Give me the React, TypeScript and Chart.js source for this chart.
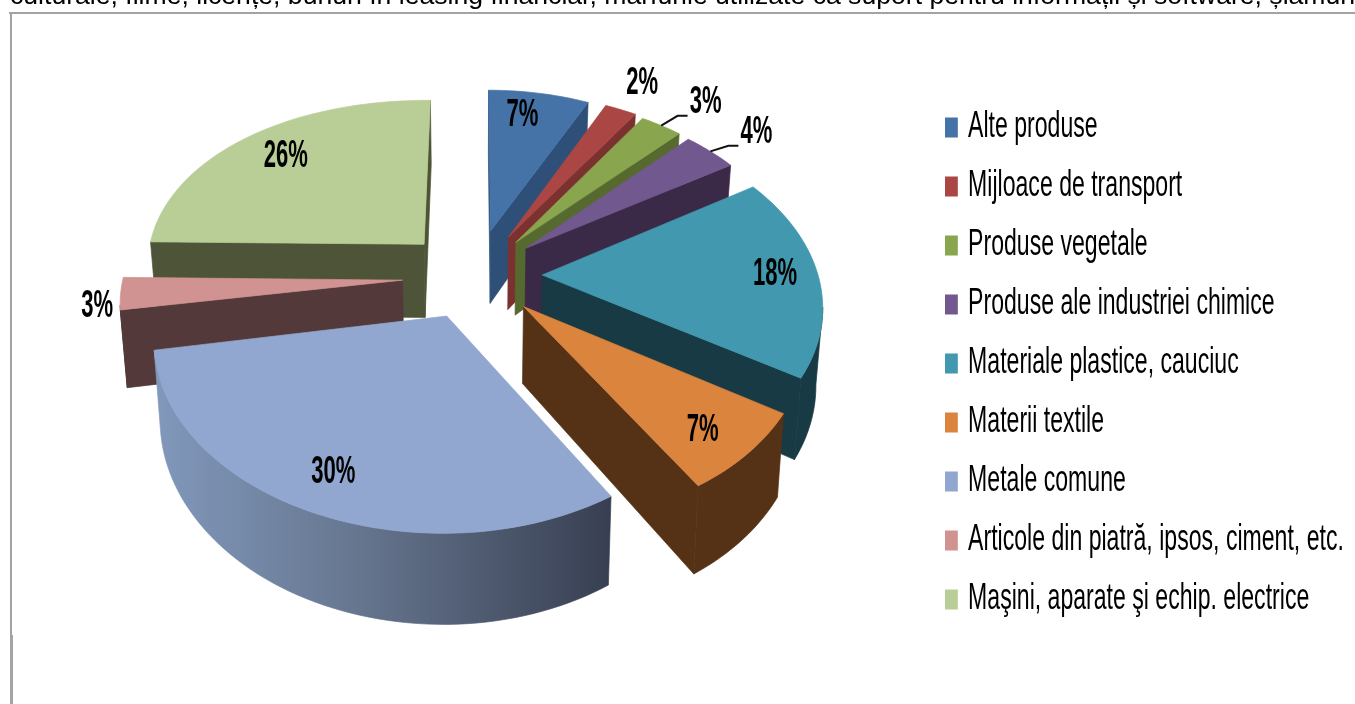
import React, { useEffect, useRef } from "react";
import { Chart, registerables } from "chart.js";
Chart.register(...registerables);

const categories = ["Alte produse","Mijloace de transport","Produse vegetale","Produse ale industriei chimice","Materiale plastice, cauciuc","Materii textile","Metale comune","Articole din piatră, ipsos, ciment, etc.","Maşini, aparate şi echip. electrice"];
const shares = [7.1,2.2,2.9,3.8,18,7.2,30.4,2.9,25.5];
const topColors = ["#4573a7","#aa4643","#89a54e","#71588f","#4198af","#db843d","#91a7cf","#d19392","#b9cd96"];
const wallColors = ["#2e5078","#7b312f","#566a30","#3b2a47","#183a45","#553216","#3b4358","#53393a","#4d5437"];
const explode = [26,25,24,24,24,24,24,25,25];
const radiusFactor = [0.96,0.975,0.975,0.97,0.985,0.97,0.96,0.95,0.96];
const labelRadius = [1.05,1.45,1.47,1.45,1.05,1.03,1.03,1.34,1.07];
const labelNudgeX = [-9,-1,11,5,6,0,-5,19,12];
const labelNudgeY = [0,-1,4,3,0,7,0,12,6];
const leaderSlices = [2,3];
const clippedLine = "culturale, filme, licențe, bunuri în leasing financiar, mărfurile utilizate ca suport pentru informații și software, șlamuri";

const CX = 475, CY = 275, RX = 280, RX_LEFT = 291, RY = 180, P = 0.15, DEPTH = 75, LEFT_LIFT = 6;
const project = (u: number, v: number, z: number) => {
  const w = 1 + P * v;
  const rx = u < 0 ? RX_LEFT : RX;
  const lift = u < 0 ? LEFT_LIFT * u * u : 0;
  return [CX + (rx * u) / (w * (1 + 0.02 * z)), CY - lift - (RY * v - DEPTH * z) / w];
};

function fillPoly(ctx: any, pts: number[][], fill: any) {
  ctx.beginPath();
  pts.forEach((p, i) => (i ? ctx.lineTo(p[0], p[1]) : ctx.moveTo(p[0], p[1])));
  ctx.closePath();
  ctx.fillStyle = fill;
  ctx.fill();
  ctx.strokeStyle = fill;
  ctx.lineWidth = 0.7;
  ctx.stroke();
}

const pie3d = {
  id: "pie3d",
  beforeDraw(chart: any) {
    const legend = chart.legend;
    if (legend && !legend.__wrapped) {
      legend.__wrapped = true;
      const orig = legend.draw.bind(legend);
      legend.draw = (...a: any[]) => {
        const sx = 0.641;
        const c = chart.ctx;
        const hit = legend.legendHitBoxes[0];
        c.save();
        c.translate(945 - sx * (hit.left - 2), 0);
        c.scale(sx, 1);
        orig(...a);
        c.restore();
      };
    }
    const ctx = chart.ctx;
    ctx.save();
    ctx.font = "26.6px 'Liberation Sans'";
    ctx.fillStyle = "#000";
    ctx.textBaseline = "alphabetic";
    ctx.fillText(clippedLine, 10, 4);
    ctx.fillStyle = "#a3a3a3";
    ctx.fillRect(9, 12, 1346, 2);
    ctx.fillRect(10, 12, 2, 623);
    ctx.fillRect(10, 635, 3, 69);
    ctx.restore();
  },
  beforeDatasetsDraw(chart: any) {
    const ctx = chart.ctx;
    const arcs = chart.getDatasetMeta(0).data;
    const info = arcs.map((a: any, i: number) => {
      const s = a.startAngle + Math.PI / 2;
      const e = a.endAngle + Math.PI / 2;
      const m = (s + e) / 2;
      const ex = a.options.offset / 100;
      return { i, s, e, m, ax: ex * Math.sin(m), ay: ex * Math.cos(m) };
    });
    const order = [...info].sort((p: any, q: any) => Math.cos(q.m) - Math.cos(p.m));
    const eyeV = -1 / P;
    const facing = (nu: number, nv: number, u: number, v: number) => nu * -u + nv * (eyeV - v) > 0;
    for (const sl of order) {
      const { i, s, e, ax, ay } = sl;
      const r = radiusFactor[i];
      const n = Math.max(4, Math.ceil((e - s) / 0.03));
      const rim: number[][] = [];
      for (let k = 0; k <= n; k++) {
        const t = s + ((e - s) * k) / n;
        rim.push([ax + r * Math.sin(t), ay + r * Math.cos(t), t]);
      }
      const first = rim[0], last = rim[n];
      const wall = wallColors[i];
      const quad = (a: number[], b: number[], f: any) =>
        fillPoly(ctx, [project(a[0], a[1], 0), project(b[0], b[1], 0), project(b[0], b[1], 1), project(a[0], a[1], 1)], f);
      if (facing(-Math.cos(s), Math.sin(s), first[0], first[1])) quad([ax, ay], first, wall);
      if (facing(Math.cos(e), -Math.sin(e), last[0], last[1])) quad([ax, ay], last, wall);
      let outer: any = wall;
      if (i === 6) {
        outer = ctx.createLinearGradient(150, 0, 610, 0);
        outer.addColorStop(0, "#8299bd");
        outer.addColorStop(0.45, "#66768f");
        outer.addColorStop(1, "#383f52");
      }
      const vis = rim.filter((p, k) => k < n && facing(Math.sin((p[2] + rim[k + 1][2]) / 2), Math.cos((p[2] + rim[k + 1][2]) / 2), p[0], p[1]));
      if (vis.length) {
        const lastVis = rim[rim.indexOf(vis[vis.length - 1]) + 1];
        const strip = [...vis, lastVis];
        fillPoly(ctx, [...strip.map((p) => project(p[0], p[1], 0)), ...[...strip].reverse().map((p) => project(p[0], p[1], 1))], outer);
      }
      fillPoly(ctx, [project(ax, ay, 0), ...rim.map((p) => project(p[0], p[1], 0))], topColors[i]);
    }
    for (const sl of info) {
      const lr = labelRadius[sl.i];
      const b = project(lr * Math.sin(sl.m), lr * Math.cos(sl.m), 0);
      const pt = [b[0] + labelNudgeX[sl.i], b[1] + labelNudgeY[sl.i]];
      if (leaderSlices.includes(sl.i)) {
        const r = radiusFactor[sl.i];
        const o = project(sl.ax + r * Math.sin(sl.m), sl.ay + r * Math.cos(sl.m), 0);
        ctx.beginPath();
        ctx.moveTo(o[0], o[1]);
        ctx.lineTo(pt[0] - 28, pt[1] + 13);
        ctx.lineTo(pt[0] - 18, pt[1] + 13);
        ctx.strokeStyle = "#111";
        ctx.lineWidth = 2;
        ctx.stroke();
      }
      ctx.save();
      ctx.translate(pt[0], pt[1]);
      ctx.scale(0.58, 1);
      ctx.font = "bold 38px 'Liberation Sans'";
      ctx.fillStyle = "#000";
      ctx.textAlign = "center";
      ctx.textBaseline = "middle";
      ctx.fillText(Math.round(shares[sl.i]) + "%", 0, 0);
      ctx.restore();
    }
    return false;
  },
};

export default function App() {
  const ref = useRef<HTMLCanvasElement>(null);
  useEffect(() => {
    document.body.style.margin = "0";
    document.body.style.background = "#fff";
    const chart = new Chart(ref.current!, {
      type: "pie",
      data: {
        labels: categories,
        datasets: [{ data: shares, backgroundColor: topColors, borderWidth: 0, offset: explode }],
      },
      options: {
        responsive: false,
        animation: false,
        layout: { padding: { top: 23, right: 8 } },
        plugins: {
          tooltip: { enabled: false },
          legend: {
            position: "right",
            labels: {
              usePointStyle: true,
              pointStyle: "rect",
              boxWidth: 16,
              boxHeight: 20,
              padding: 23,
              color: "#000",
              font: { family: "'Liberation Sans'", size: 36, lineHeight: 1 },
            },
          },
        },
      },
      plugins: [pie3d],
    } as any);
    return () => chart.destroy();
  }, []);
  return <canvas ref={ref} width={1355} height={704} style={{ display: "block", filter: "blur(0.4px)" }} />;
}
